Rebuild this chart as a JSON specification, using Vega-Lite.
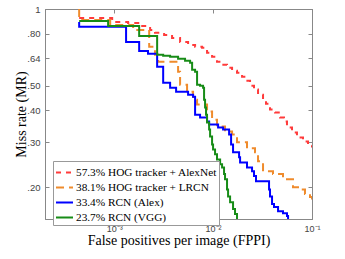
{
"$schema": "https://vega.github.io/schema/vega-lite/v6.json",
"width": 267, "height": 210,
"autosize": "none",
"padding": {"left": 45, "top": 9, "right": 33, "bottom": 40},
"background": "white",
"config": {
  "view": {"stroke": "#888"},
  "axis": {"grid": false, "domainColor": "#888", "tickColor": "#888", "labelFont": "Liberation Sans", "labelColor": "#444", "titleFont": "Liberation Serif", "titleFontWeight": "normal", "titleColor": "black", "titleFontSize": 14, "labelOverlap": false, "labelFlush": false}
},
"data": {"values": [
{"s":"57.3% HOG tracker + AlexNet","i":0,"x":0.000443,"y":0.922},
{"s":"57.3% HOG tracker + AlexNet","i":1,"x":0.000955,"y":0.890},
{"s":"57.3% HOG tracker + AlexNet","i":2,"x":0.001383,"y":0.882},
{"s":"57.3% HOG tracker + AlexNet","i":3,"x":0.001832,"y":0.858},
{"s":"57.3% HOG tracker + AlexNet","i":4,"x":0.00231,"y":0.828},
{"s":"57.3% HOG tracker + AlexNet","i":5,"x":0.00259,"y":0.806},
{"s":"57.3% HOG tracker + AlexNet","i":6,"x":0.0032,"y":0.791},
{"s":"57.3% HOG tracker + AlexNet","i":7,"x":0.00385,"y":0.770},
{"s":"57.3% HOG tracker + AlexNet","i":8,"x":0.00464,"y":0.743},
{"s":"57.3% HOG tracker + AlexNet","i":9,"x":0.00559,"y":0.723},
{"s":"57.3% HOG tracker + AlexNet","i":10,"x":0.00658,"y":0.711},
{"s":"57.3% HOG tracker + AlexNet","i":11,"x":0.00774,"y":0.704},
{"s":"57.3% HOG tracker + AlexNet","i":12,"x":0.00869,"y":0.673},
{"s":"57.3% HOG tracker + AlexNet","i":13,"x":0.00977,"y":0.649},
{"s":"57.3% HOG tracker + AlexNet","i":14,"x":0.01096,"y":0.621},
{"s":"57.3% HOG tracker + AlexNet","i":15,"x":0.01233,"y":0.604},
{"s":"57.3% HOG tracker + AlexNet","i":16,"x":0.01384,"y":0.588},
{"s":"57.3% HOG tracker + AlexNet","i":17,"x":0.01556,"y":0.573},
{"s":"57.3% HOG tracker + AlexNet","i":18,"x":0.01746,"y":0.562},
{"s":"57.3% HOG tracker + AlexNet","i":19,"x":0.01963,"y":0.542},
{"s":"57.3% HOG tracker + AlexNet","i":20,"x":0.02155,"y":0.523},
{"s":"57.3% HOG tracker + AlexNet","i":21,"x":0.02364,"y":0.500},
{"s":"57.3% HOG tracker + AlexNet","i":22,"x":0.02594,"y":0.483},
{"s":"57.3% HOG tracker + AlexNet","i":23,"x":0.02848,"y":0.461},
{"s":"57.3% HOG tracker + AlexNet","i":24,"x":0.03199,"y":0.441},
{"s":"57.3% HOG tracker + AlexNet","i":25,"x":0.03428,"y":0.425},
{"s":"57.3% HOG tracker + AlexNet","i":26,"x":0.03764,"y":0.403},
{"s":"57.3% HOG tracker + AlexNet","i":27,"x":0.04226,"y":0.393},
{"s":"57.3% HOG tracker + AlexNet","i":28,"x":0.0475,"y":0.375},
{"s":"57.3% HOG tracker + AlexNet","i":29,"x":0.05212,"y":0.362},
{"s":"57.3% HOG tracker + AlexNet","i":30,"x":0.05585,"y":0.343},
{"s":"57.3% HOG tracker + AlexNet","i":31,"x":0.06281,"y":0.328},
{"s":"57.3% HOG tracker + AlexNet","i":32,"x":0.07047,"y":0.313},
{"s":"57.3% HOG tracker + AlexNet","i":33,"x":0.0811,"y":0.302},
{"s":"57.3% HOG tracker + AlexNet","i":34,"x":0.0912,"y":0.292},
{"s":"57.3% HOG tracker + AlexNet","i":35,"x":0.1,"y":0.286},
{"s":"38.1% HOG tracker + LRCN","i":0,"x":0.000443,"y":1.0},
{"s":"38.1% HOG tracker + LRCN","i":1,"x":0.000443,"y":0.906},
{"s":"38.1% HOG tracker + LRCN","i":2,"x":0.000912,"y":0.866},
{"s":"38.1% HOG tracker + LRCN","i":3,"x":0.001556,"y":0.828},
{"s":"38.1% HOG tracker + LRCN","i":4,"x":0.00226,"y":0.711},
{"s":"38.1% HOG tracker + LRCN","i":5,"x":0.00259,"y":0.661},
{"s":"38.1% HOG tracker + LRCN","i":6,"x":0.00278,"y":0.621},
{"s":"38.1% HOG tracker + LRCN","i":7,"x":0.00443,"y":0.567},
{"s":"38.1% HOG tracker + LRCN","i":8,"x":0.00464,"y":0.505},
{"s":"38.1% HOG tracker + LRCN","i":9,"x":0.00546,"y":0.474},
{"s":"38.1% HOG tracker + LRCN","i":10,"x":0.00628,"y":0.441},
{"s":"38.1% HOG tracker + LRCN","i":11,"x":0.00689,"y":0.422},
{"s":"38.1% HOG tracker + LRCN","i":12,"x":0.00869,"y":0.396},
{"s":"38.1% HOG tracker + LRCN","i":13,"x":0.00977,"y":0.368},
{"s":"38.1% HOG tracker + LRCN","i":14,"x":0.01096,"y":0.346},
{"s":"38.1% HOG tracker + LRCN","i":15,"x":0.01321,"y":0.331},
{"s":"38.1% HOG tracker + LRCN","i":16,"x":0.01556,"y":0.322},
{"s":"38.1% HOG tracker + LRCN","i":17,"x":0.01746,"y":0.300},
{"s":"38.1% HOG tracker + LRCN","i":18,"x":0.02203,"y":0.284},
{"s":"38.1% HOG tracker + LRCN","i":19,"x":0.02655,"y":0.274},
{"s":"38.1% HOG tracker + LRCN","i":20,"x":0.02848,"y":0.253},
{"s":"38.1% HOG tracker + LRCN","i":21,"x":0.03199,"y":0.231},
{"s":"38.1% HOG tracker + LRCN","i":22,"x":0.04036,"y":0.225},
{"s":"38.1% HOG tracker + LRCN","i":23,"x":0.05092,"y":0.215},
{"s":"38.1% HOG tracker + LRCN","i":24,"x":0.06424,"y":0.200},
{"s":"38.1% HOG tracker + LRCN","i":25,"x":0.07561,"y":0.196},
{"s":"38.1% HOG tracker + LRCN","i":26,"x":0.08491,"y":0.188},
{"s":"38.1% HOG tracker + LRCN","i":27,"x":0.09545,"y":0.183},
{"s":"38.1% HOG tracker + LRCN","i":28,"x":0.1,"y":0.179},
{"s":"33.4% RCN (Alex)","i":0,"x":0.000443,"y":0.890},
{"s":"33.4% RCN (Alex)","i":1,"x":0.000443,"y":0.851},
{"s":"33.4% RCN (Alex)","i":2,"x":0.00132,"y":0.743},
{"s":"33.4% RCN (Alex)","i":3,"x":0.00179,"y":0.685},
{"s":"33.4% RCN (Alex)","i":4,"x":0.0022,"y":0.667},
{"s":"33.4% RCN (Alex)","i":5,"x":0.00272,"y":0.593},
{"s":"33.4% RCN (Alex)","i":6,"x":0.00313,"y":0.514},
{"s":"33.4% RCN (Alex)","i":7,"x":0.00368,"y":0.491},
{"s":"33.4% RCN (Alex)","i":8,"x":0.00423,"y":0.474},
{"s":"33.4% RCN (Alex)","i":9,"x":0.00559,"y":0.461},
{"s":"33.4% RCN (Alex)","i":10,"x":0.00628,"y":0.453},
{"s":"33.4% RCN (Alex)","i":11,"x":0.00658,"y":0.385},
{"s":"33.4% RCN (Alex)","i":12,"x":0.00739,"y":0.375},
{"s":"33.4% RCN (Alex)","i":13,"x":0.00869,"y":0.362},
{"s":"33.4% RCN (Alex)","i":14,"x":0.00912,"y":0.352},
{"s":"33.4% RCN (Alex)","i":15,"x":0.01124,"y":0.343},
{"s":"33.4% RCN (Alex)","i":16,"x":0.01262,"y":0.337},
{"s":"33.4% RCN (Alex)","i":17,"x":0.01452,"y":0.322},
{"s":"33.4% RCN (Alex)","i":18,"x":0.01521,"y":0.294},
{"s":"33.4% RCN (Alex)","i":19,"x":0.01592,"y":0.274},
{"s":"33.4% RCN (Alex)","i":20,"x":0.01832,"y":0.262},
{"s":"33.4% RCN (Alex)","i":21,"x":0.01875,"y":0.250},
{"s":"33.4% RCN (Alex)","i":22,"x":0.02203,"y":0.239},
{"s":"33.4% RCN (Alex)","i":23,"x":0.02477,"y":0.231},
{"s":"33.4% RCN (Alex)","i":24,"x":0.02594,"y":0.221},
{"s":"33.4% RCN (Alex)","i":25,"x":0.02716,"y":0.211},
{"s":"33.4% RCN (Alex)","i":26,"x":0.0368,"y":0.196},
{"s":"33.4% RCN (Alex)","i":27,"x":0.03764,"y":0.184},
{"s":"33.4% RCN (Alex)","i":28,"x":0.03945,"y":0.1716},
{"s":"33.4% RCN (Alex)","i":29,"x":0.0413,"y":0.167},
{"s":"33.4% RCN (Alex)","i":30,"x":0.04537,"y":0.161},
{"s":"33.4% RCN (Alex)","i":31,"x":0.05092,"y":0.158},
{"s":"33.4% RCN (Alex)","i":32,"x":0.05585,"y":0.154},
{"s":"33.4% RCN (Alex)","i":33,"x":0.05728,"y":0.15},
{"s":"23.7% RCN (VGG)","i":0,"x":0.000443,"y":0.898},
{"s":"23.7% RCN (VGG)","i":1,"x":0.000869,"y":0.858},
{"s":"23.7% RCN (VGG)","i":2,"x":0.00179,"y":0.784},
{"s":"23.7% RCN (VGG)","i":3,"x":0.00272,"y":0.661},
{"s":"23.7% RCN (VGG)","i":4,"x":0.00313,"y":0.655},
{"s":"23.7% RCN (VGG)","i":5,"x":0.00368,"y":0.649},
{"s":"23.7% RCN (VGG)","i":6,"x":0.00443,"y":0.638},
{"s":"23.7% RCN (VGG)","i":7,"x":0.00521,"y":0.626},
{"s":"23.7% RCN (VGG)","i":8,"x":0.00586,"y":0.615},
{"s":"23.7% RCN (VGG)","i":9,"x":0.00614,"y":0.578},
{"s":"23.7% RCN (VGG)","i":10,"x":0.00658,"y":0.567},
{"s":"23.7% RCN (VGG)","i":11,"x":0.00689,"y":0.505},
{"s":"23.7% RCN (VGG)","i":12,"x":0.00739,"y":0.500},
{"s":"23.7% RCN (VGG)","i":13,"x":0.00792,"y":0.491},
{"s":"23.7% RCN (VGG)","i":14,"x":0.00811,"y":0.441},
{"s":"23.7% RCN (VGG)","i":15,"x":0.0083,"y":0.411},
{"s":"23.7% RCN (VGG)","i":16,"x":0.00849,"y":0.385},
{"s":"23.7% RCN (VGG)","i":17,"x":0.00869,"y":0.359},
{"s":"23.7% RCN (VGG)","i":18,"x":0.00912,"y":0.337},
{"s":"23.7% RCN (VGG)","i":19,"x":0.00933,"y":0.316},
{"s":"23.7% RCN (VGG)","i":20,"x":0.00977,"y":0.294},
{"s":"23.7% RCN (VGG)","i":21,"x":0.0100,"y":0.281},
{"s":"23.7% RCN (VGG)","i":22,"x":0.01047,"y":0.269},
{"s":"23.7% RCN (VGG)","i":23,"x":0.01096,"y":0.257},
{"s":"23.7% RCN (VGG)","i":24,"x":0.01178,"y":0.246},
{"s":"23.7% RCN (VGG)","i":25,"x":0.01233,"y":0.239},
{"s":"23.7% RCN (VGG)","i":26,"x":0.01291,"y":0.225},
{"s":"23.7% RCN (VGG)","i":27,"x":0.01321,"y":0.215},
{"s":"23.7% RCN (VGG)","i":28,"x":0.01384,"y":0.196},
{"s":"23.7% RCN (VGG)","i":29,"x":0.01418,"y":0.184},
{"s":"23.7% RCN (VGG)","i":30,"x":0.01486,"y":0.1747},
{"s":"23.7% RCN (VGG)","i":31,"x":0.01592,"y":0.164},
{"s":"23.7% RCN (VGG)","i":32,"x":0.01667,"y":0.1568},
{"s":"23.7% RCN (VGG)","i":33,"x":0.01746,"y":0.15}
]},
"layer": [
  {
    "mark": {"type": "line", "interpolate": "step-after", "strokeWidth": 2, "clip": true},
    "encoding": {
      "x": {"field": "x", "type": "quantitative", "scale": {"type": "log", "domain": [0.0002, 0.1]},
        "axis": {"orient": "bottom", "values": [0.001, 0.01, 0.1], "labelExpr": "datum.value < 0.005 ? '10⁻³' : datum.value < 0.05 ? '10⁻²' : '10⁻¹'", "title": "False positives per image (FPPI)", "tickSize": -4, "labelPadding": 9, "labelFontSize": 9, "titleY": 25.5, "titleBaseline": "alphabetic"}},
      "y": {"field": "y", "type": "quantitative", "scale": {"type": "log", "domain": [0.15, 1]},
        "axis": {"orient": "left", "values": [0.2, 0.3, 0.4, 0.5, 0.64, 0.8, 1], "labelExpr": "datum.value >= 1 ? '1' : replace(format(datum.value, '.2f'), '0.', '.')", "title": "Miss rate (MR)", "tickSize": -4, "labelPadding": 9, "labelFontSize": 9.5, "titleX": -20, "titleBaseline": "alphabetic"}},
      "color": {"field": "s", "type": "nominal",
        "scale": {"domain": ["57.3% HOG tracker + AlexNet", "38.1% HOG tracker + LRCN", "33.4% RCN (Alex)", "23.7% RCN (VGG)"], "range": ["#ff3b3b", "#ef8b2c", "#0000ff", "#178c17"]},
        "legend": {"orient": "none", "legendX": 8, "legendY": 152, "title": null, "strokeColor": "#999", "fillColor": "white", "padding": 2, "labelFont": "Liberation Serif", "labelFontSize": 11.3, "labelColor": "black", "symbolType": "stroke", "symbolSize": 289, "symbolStrokeWidth": 2, "rowPadding": 0, "labelLimit": 250, "labelOffset": 2}},
      "strokeDash": {"field": "s", "type": "nominal",
        "scale": {"domain": ["57.3% HOG tracker + AlexNet", "38.1% HOG tracker + LRCN", "33.4% RCN (Alex)", "23.7% RCN (VGG)"], "range": [[5, 5], [8, 5], [1, 0], [1, 0]]}},
      "order": {"field": "i", "type": "quantitative"}
    }
  },
  {
    "mark": {"type": "line", "opacity": 0},
    "encoding": {
      "x": {"field": "x", "type": "quantitative", "scale": {"type": "log", "domain": [0.0002, 0.1]},
        "axis": {"orient": "top", "values": [0.001, 0.01, 0.1], "labels": false, "title": null, "tickSize": -4}},
      "y": {"field": "y", "type": "quantitative", "scale": {"type": "log", "domain": [0.15, 1]},
        "axis": {"orient": "right", "values": [0.2, 0.3, 0.4, 0.5, 0.64, 0.8, 1], "labels": false, "title": null, "tickSize": -4}}
    }
  }
],
"resolve": {"axis": {"x": "independent", "y": "independent"}}
}
